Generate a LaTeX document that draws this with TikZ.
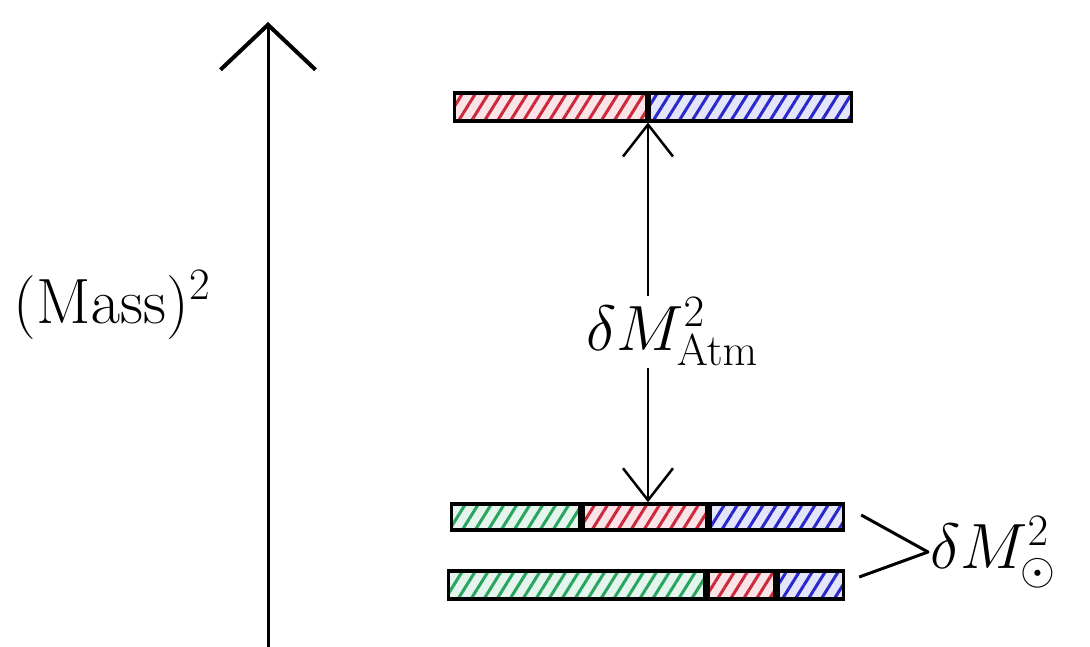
\RequirePackage{fix-cm}
\documentclass[tikz,border=0pt]{standalone}
\usepackage{amsmath}
\usetikzlibrary{positioning, arrows.meta, patterns.meta}

\definecolor{hred}{RGB}{205,40,60}
\definecolor{hblue}{RGB}{40,40,205}
\definecolor{hgreen}{RGB}{40,165,95}

\tikzset{
  seg/.style={draw, line width=3.4pt, inner sep=0pt, minimum height=#1},
  seg/.default=28pt,
  hatch/.style={preaction={fill=#1!12},
    pattern={Lines[angle=58, distance=11pt, line width=3pt]}, pattern color=#1},
  bigtxt/.style={font=\fontsize{64}{70}\selectfont, inner sep=2pt},
}

\begin{document}
\begin{tikzpicture}[x=1pt, y=-1pt, >={Straight Barb[length=32pt, width=50pt, line width=2.5pt]}]
\useasboundingbox (0,0) rectangle (1090,647);

% --- Axis ---
\coordinate (axbot) at (268,647);
\coordinate (axtop) at (268,22);
\draw[line width=3pt, -{Straight Barb[length=45pt, width=95pt, line width=4pt]}] (axbot) -- (axtop);
\node[bigtxt] (mass) at (112,305) {$(\mathrm{Mass})^2$};

% --- Top bar ---
\node[seg, hatch=hred, minimum width=192pt, anchor=west] (tr) at (453,107) {};
\node[seg, hatch=hblue, minimum width=202pt, right=0pt of tr] (tb) {};

% --- Lower bars ---
\node[seg=26pt, hatch=hgreen, minimum width=128pt, anchor=west] (ag) at (450,517) {};
\node[seg=26pt, hatch=hred, minimum width=124pt, right=0pt of ag] (ar) {};
\node[seg=26pt, hatch=hblue, minimum width=133pt, right=0pt of ar] (ab) {};

\node[seg=28pt, hatch=hgreen, minimum width=256pt, anchor=west] (bg) at (447,585) {};
\node[seg=28pt, hatch=hred, minimum width=67pt, right=0pt of bg] (br) {};
\node[seg=28pt, hatch=hblue, minimum width=65pt, right=0pt of br] (bb) {};

% --- Atmospheric splitting ---
\node[bigtxt] (atm) at (672,332) {$\delta M^2_{\mathrm{Atm}}$};
\coordinate (tsplit) at (tr.south east);
\coordinate (lsplit) at (ar.north -| tsplit);
\draw[line width=2.5pt, ->] (atm.north -| tsplit) -- (tsplit);
\draw[line width=2.5pt, ->] (atm.south -| tsplit) -- (lsplit);

% --- Solar splitting ---
\node[bigtxt, anchor=west] (sol) at (928,552) {$\delta M^2_{\odot}$};
\draw[line width=3pt, line join=round]
  ([xshift=16pt, yshift=2pt]ab.east) -- (sol.west) -- ([xshift=14pt, yshift=8pt]bb.east);

\end{tikzpicture}
\end{document}
